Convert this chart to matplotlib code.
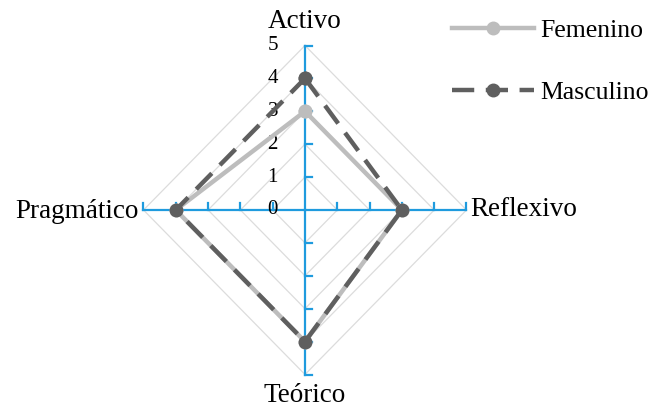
import numpy as np
import matplotlib
matplotlib.use("Agg")
import matplotlib.pyplot as plt

# Radar chart: learning styles by sex
categories = ["Activo", "Reflexivo", "Teórico", "Pragmático"]
femenino = [3, 3, 4, 4]
masculino = [4, 3, 4, 4]
ring_ticks = [0, 1, 2, 3, 4, 5]

plt.rcParams["font.family"] = ["Liberation Serif", "DejaVu Serif"]

blue = "#1F9BDE"
grid_col = "#DCDCDC"
fem_col = "#BDBDBD"
mas_col = "#5F5F5F"

# axis directions: top, right, bottom, left (clockwise from top)
angles = np.deg2rad([90, 0, -90, 180])
ux, uy = np.cos(angles), np.sin(angles)
rmax = ring_ticks[-1]

W, H = 658, 407
fig = plt.figure(figsize=(W / 100, H / 100), dpi=100)
ax = fig.add_axes([0, 0, 1, 1])
ax.set_axis_off()

# pixel mapping (center at 305,210, ~32.3 px/unit horizontally, 32.9 vertically)
sx, sy = 32.3, 32.9
cx, cy = 305, 210
ax.set_xlim(-cx / sx, (W - cx) / sx)
ax.set_ylim(-(H - cy) / sy, cy / sy)

# diamond grid
for r in ring_ticks[1:]:
    gx = np.append(r * ux, r * ux[0])
    gy = np.append(r * uy, r * uy[0])
    ax.plot(gx, gy, color=grid_col, lw=0.9, zorder=1)

# spokes with tick marks
tl = 7  # tick length in px
for k in range(4):
    ax.plot([0, rmax * ux[k]], [0, rmax * uy[k]], color=blue, lw=1.6, zorder=2)
    for r in ring_ticks[1:]:
        px, py = r * ux[k], r * uy[k]
        if k in (0, 2):  # vertical spokes: ticks to the right
            ax.plot([px, px + tl / sx], [py, py], color=blue, lw=1.6, zorder=2)
        else:  # horizontal spokes: ticks upward
            ax.plot([px, px], [py, py + tl / sy], color=blue, lw=1.6, zorder=2)

# ring value labels along the top spoke
for r in ring_ticks:
    ax.text(-27 / sx, r, str(r), ha="right", va="center", fontsize=15, zorder=3)

# category labels
lab_fs = 19.5
ax.text(0, rmax + 17 / sy, categories[0], ha="center", va="baseline", fontsize=lab_fs)
ax.text(rmax + 4 / sx, 0, categories[1], ha="left", va="center", fontsize=lab_fs)
ax.text(0, -rmax - 8 / sy, categories[2], ha="center", va="top", fontsize=lab_fs)
ax.text(-rmax - 5 / sx, -1 / sy, categories[3], ha="right", va="center", fontsize=lab_fs)

# series
def closed(vals):
    v = np.array(vals, dtype=float)
    x = np.append(v * ux, v[0] * ux[0])
    y = np.append(v * uy, v[0] * uy[0])
    return x, y

fx, fy = closed(femenino)
mx, my = closed(masculino)
ax.plot(fx, fy, color=fem_col, lw=3.2, marker="o", ms=9, mec=fem_col, mfc=fem_col,
        zorder=4, label="Femenino", solid_joinstyle="round")
ax.plot(mx, my, color=mas_col, lw=3.2, marker="o", ms=9, mec=mas_col, mfc=mas_col,
        dashes=(5, 2.6), zorder=5, label="Masculino")

ax.legend(loc="upper left", bbox_to_anchor=(452 / W, 1 - 19 / H), frameon=False,
          fontsize=18.5, handlelength=3.2, handletextpad=0.25, labelspacing=1.5,
          borderpad=0, borderaxespad=0, numpoints=1)

fig.savefig("out.png", dpi=100)
